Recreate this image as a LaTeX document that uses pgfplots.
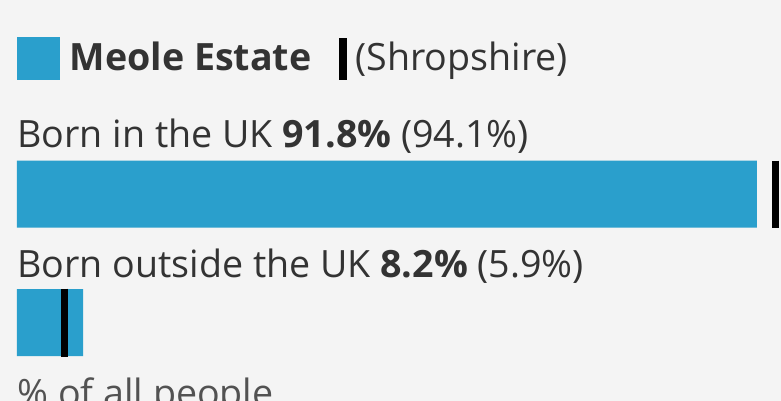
\documentclass[border=0pt]{standalone}
\usepackage{pgfplots}
\pgfplotsset{compat=1.18}
\usepackage{fontspec}
\setmainfont{Open Sans}
\definecolor{ukblue}{HTML}{2A9FCC}
\definecolor{bg}{HTML}{F4F4F4}
\definecolor{txt}{HTML}{333333}
\begin{document}
\fontsize{18.8}{22}\selectfont
\begin{tikzpicture}
\path[use as bounding box] (0,0) rectangle (390.5pt,200.5pt);
\fill[bg] (0,0) rectangle (390.5pt,200.5pt);
\clip (0,0) rectangle (390.5pt,200.5pt);
\begin{axis}[
    at={(8.5pt,200.5pt)}, anchor=north west,
    scale only axis,
    width=382pt, height=200.5pt,
    xmin=0, xmax=94.79,
    ymin=0, ymax=401, y dir=reverse,
    hide axis, clip=false,
    legend columns=2,
    legend style={
        draw=none, fill=none, inner sep=0pt,
        at={(0,0.9077)}, anchor=north west,
        nodes={inner sep=0pt, text=txt},
    },
]
% legend (the invisible paths set the gaps)
\addlegendimage{legend image code/.code={
    \fill[ukblue] (0pt,-10.5pt) rectangle (21pt,10.5pt);
    \path (25.8pt,0pt);}}
\addlegendentry{\textbf{Meole Estate}}
\addlegendimage{legend image code/.code={
    \path (-13.5pt,0pt);
    \fill[black] (0pt,-10.25pt) rectangle (3.5pt,10.25pt);
    \path (8pt,0pt);}}
\addlegendentry{(Shropshire)}

% Meole Estate bars
\addplot[xbar, bar width=67, bar shift=0pt, fill=ukblue, draw=none, forget plot]
    coordinates {(91.8,194) (8.2,322.5)};
% Shropshire markers
\addplot[black, line width=3.5pt, forget plot] coordinates {(94.1,160.5) (94.1,227.5)};
\addplot[black, line width=3.5pt, forget plot] coordinates {(5.9,288.5) (5.9,356.5)};

\node[anchor=base west, inner sep=0pt, text=txt] at (axis cs:0,148)
    {Born in the UK \textbf{91.8\%} (94.1\%)};
\node[anchor=base west, inner sep=0pt, text=txt] at (axis cs:0,277)
    {Born outside the UK \textbf{8.2\%} (5.9\%)};
\node[anchor=base west, inner sep=0pt, text=txt!85] at (axis cs:0,406)
    {\% of all people};
\end{axis}
\end{tikzpicture}
\end{document}
